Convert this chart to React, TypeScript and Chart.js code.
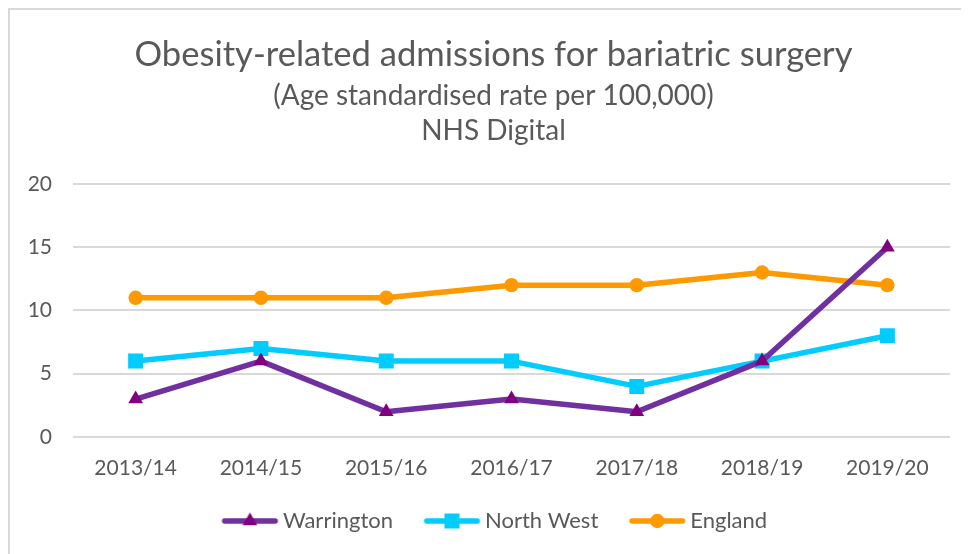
import React, { useEffect, useRef } from 'react';
import { Chart, registerables } from 'chart.js';

Chart.register(...registerables);

const categories = ['2013/14', '2014/15', '2015/16', '2016/17', '2017/18', '2018/19', '2019/20'];
const seriesNames = ['Warrington', 'North West', 'England'];
const warrington = [3, 6, 2, 3, 2, 6, 15];
const northWest = [6, 7, 6, 6, 4, 6, 8];
const england = [11, 11, 11, 12, 12, 13, 12];
const yMin = 0;
const yMax = 20;
const yStep = 5;

const titleText = 'Obesity-related admissions for bariatric surgery';
const subtitleLines = ['(Age standardised rate per 100,000)', 'NHS Digital'];

const FONT = 'Lato';
const TEXT = '#595959';
const GRID = '#d9d9d9';
const LINE_W = 5.5;

const LEG_FS = 22;
const LEG_W = 71;

function makeLegendImage(lineColor: string, markerColor: string, style: string, r: number) {
  const c = document.createElement('canvas');
  const w = 100;
  const h = 26;
  c.width = w;
  c.height = h;
  const ctx = c.getContext('2d')!;
  const cx = w / 2;
  const x0 = cx - 14.5;
  const x1 = cx + 41.5;
  const y = h / 2;
  ctx.strokeStyle = lineColor;
  ctx.lineWidth = LINE_W;
  ctx.lineCap = 'round';
  ctx.beginPath();
  ctx.moveTo(x0 + LINE_W / 2, y);
  ctx.lineTo(x1 - LINE_W / 2, y);
  ctx.stroke();
  const mx = (x0 + x1) / 2;
  ctx.fillStyle = markerColor;
  ctx.beginPath();
  if (style === 'triangle') {
    let rad = 0;
    ctx.moveTo(mx + Math.sin(rad) * r, y - Math.cos(rad) * r);
    rad += (2 * Math.PI) / 3;
    ctx.lineTo(mx + Math.sin(rad) * r, y - Math.cos(rad) * r);
    rad += (2 * Math.PI) / 3;
    ctx.lineTo(mx + Math.sin(rad) * r, y - Math.cos(rad) * r);
    ctx.closePath();
  } else if (style === 'rect') {
    const s = r * Math.SQRT1_2;
    ctx.rect(mx - s, y - s, 2 * s, 2 * s);
  } else {
    ctx.arc(mx, y, r, 0, Math.PI * 2);
  }
  ctx.fill();
  return c;
}

const legendShift = {
  id: 'legendShift',
  afterLayout(chart: any) {
    const l = chart.legend;
    if (l) {
      l.left -= 9.5;
      l.right -= 9.5;
    }
  },
};

export default function App() {
  const ref = useRef<HTMLCanvasElement | null>(null);

  useEffect(() => {
    document.body.style.overflow = 'hidden';
    const canvas = ref.current;
    if (!canvas) return;

    const styles = [
      { line: '#7030A0', marker: '#800080', point: 'triangle', r: 8.5 },
      { line: '#00CCFF', marker: '#00CCFF', point: 'rect', r: 10.6 },
      { line: '#FF9900', marker: '#FF9900', point: 'circle', r: 7.2 },
    ];
    const values = [warrington, northWest, england];
    const legendImages = styles.map((s) => makeLegendImage(s.line, s.marker, s.point, s.r));

    const chart = new Chart(canvas, {
      type: 'line',
      data: {
        labels: categories,
        datasets: seriesNames.map((name, i) => ({
          label: name,
          data: values[i],
          borderColor: styles[i].line,
          backgroundColor: styles[i].marker,
          pointBackgroundColor: styles[i].marker,
          pointBorderColor: styles[i].marker,
          pointBorderWidth: 0,
          pointStyle: styles[i].point as any,
          pointRadius: styles[i].r,
          pointHoverRadius: styles[i].r,
          borderWidth: LINE_W,
          borderCapStyle: 'round' as const,
          borderJoinStyle: 'round' as const,
          tension: 0,
          fill: false,
        })),
      },
      options: {
        animation: false,
        responsive: false,
        events: [],
        layout: { padding: { left: 8, right: 0, top: 0, bottom: 12 } },
        scales: {
          x: {
            offset: true,
            grid: { display: false, drawTicks: false },
            border: { display: false },
            ticks: {
              color: TEXT,
              padding: 18.4,
              font: { family: FONT, size: 21, lineHeight: 1.2 },
              maxRotation: 0,
              autoSkip: false,
            },
            afterFit: (scale: any) => {
              scale.height = 63;
            },
          },
          y: {
            min: yMin,
            max: yMax,
            grid: { color: GRID, lineWidth: 2, drawTicks: false },
            border: { display: false },
            ticks: {
              stepSize: yStep,
              color: TEXT,
              padding: 21,
              font: { family: FONT, size: 21, lineHeight: 1.2 },
            },
            afterFit: (scale: any) => {
              scale.width = 55;
            },
          },
          yRightSpace: {
            position: 'right',
            display: true,
            grid: { display: false, drawTicks: false },
            border: { display: false },
            ticks: { display: false },
            afterFit: (scale: any) => {
              scale.width = 19;
            },
          },
        },
        plugins: {
          tooltip: { enabled: false },
          title: {
            display: true,
            text: titleText,
            color: TEXT,
            font: { family: FONT, size: 34.6, weight: 'normal', lineHeight: 1.2 },
            padding: { top: 24.2, bottom: 0 },
          },
          subtitle: {
            display: true,
            text: subtitleLines,
            color: TEXT,
            font: { family: FONT, size: 28, weight: 'normal', lineHeight: 35 / 28 },
            padding: { top: 2.7, bottom: 35.5 },
          },
          legend: {
            display: true,
            position: 'bottom',
            labels: {
              usePointStyle: true,
              pointStyleWidth: LEG_W,
              padding: 10,
              color: TEXT,
              font: { family: FONT, size: LEG_FS },
              generateLabels: (ch: any) =>
                ch.data.datasets.map((ds: any, i: number) => ({
                  text: ds.label,
                  pointStyle: legendImages[i],
                  fillStyle: 'transparent',
                  strokeStyle: 'transparent',
                  lineWidth: 0,
                  hidden: false,
                  datasetIndex: i,
                  fontColor: TEXT,
                })),
            },
          },
        },
      },
      plugins: [legendShift],
    });

    return () => {
      chart.destroy();
    };
  }, []);

  return (
    <div
      style={{
        width: 961,
        height: 546,
        boxSizing: 'border-box',
        borderTop: `2px solid ${GRID}`,
        borderLeft: `2px solid ${GRID}`,
        background: '#fff',
      }}
    >
      <canvas ref={ref} width={959} height={544} style={{ display: 'block', width: 959, height: 544 }} />
    </div>
  );
}
